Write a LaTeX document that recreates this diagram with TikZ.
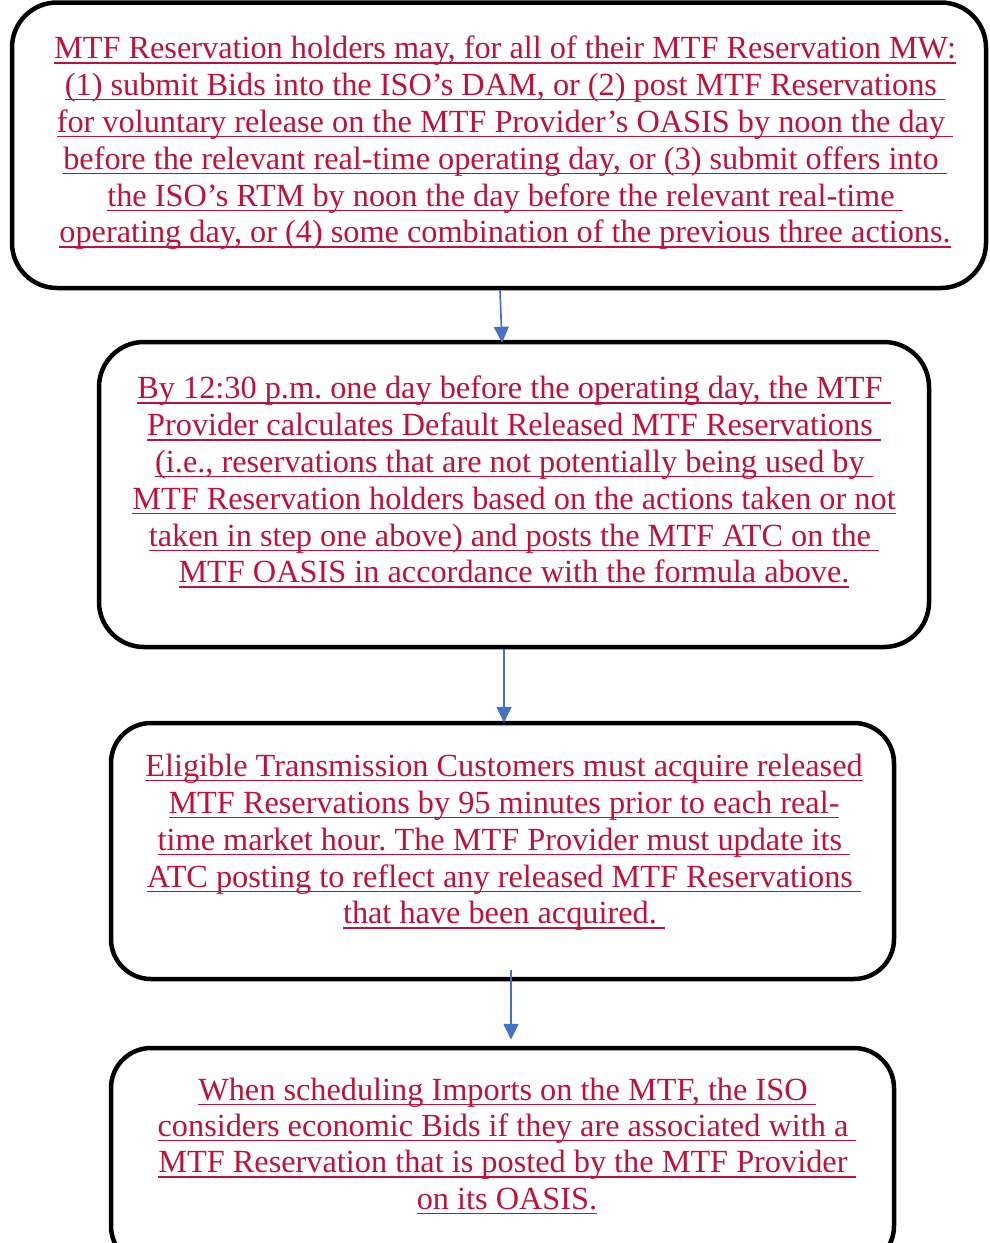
\documentclass[tikz,border=0pt]{standalone}
\usepackage{fontspec}
\setmainfont{Liberation Serif}
\usetikzlibrary{arrows.meta}
\definecolor{insred}{RGB}{190,18,58}
\definecolor{flowblue}{RGB}{68,114,196}
\frenchspacing
% underlined inserted text, one line at a time
\newcommand{\insl}[1]{\setbox0\hbox{#1}\rlap{\rule[-4.8pt]{\wd0}{1.3pt}}\box0}
\begin{document}
\begin{tikzpicture}[x=1pt,y=1pt,
  stepbox/.style={draw, line width=4.5pt, rounded corners=45pt},
  steptext/.style={text=insred, align=center, inner sep=0pt, font=\fontsize{32.3}{36.8}\selectfont},
  flow/.style={flowblue, line width=1.7pt, -{Triangle[width=15pt,length=16pt]}}]
\path[use as bounding box, clip] (0,0) rectangle (989,-1243);
% boxes
\node[stepbox, minimum width=974pt, minimum height=285.5pt] (step1) at (499,-145.25){};
\node[stepbox, minimum width=830pt, minimum height=305pt] (step2) at (514,-494.5){};
\node[stepbox, rounded corners=40pt, minimum width=783pt, minimum height=256pt] (step3) at (502.5,-851){};
\node[stepbox, rounded corners=40pt, minimum width=783pt, minimum height=218pt] (step4) at (502.5,-1157){};
% texts
\node[steptext] (step1txt) at (505,-143){\insl{MTF Reservation holders may, for all of their MTF Reservation MW:}\\
\insl{(1) submit Bids into the ISO’s DAM, or (2) post MTF Reservations~}\\
\insl{for voluntary release on the MTF Provider’s OASIS by noon the day~}\\
\insl{before the relevant real-time operating day, or (3) submit offers into~}\\
\insl{the ISO’s RTM by noon the day before the relevant real-time~}\\
\insl{operating day, or (4) some combination of the previous three actions.}};
\node[steptext] (step2txt) at (514,-482){\insl{By 12:30 p.m. one day before the operating day, the MTF~}\\
\insl{Provider calculates Default Released MTF Reservations~}\\
\insl{(i.e., reservations that are not potentially being used by~}\\
\insl{MTF Reservation holders based on the actions taken or not}\\
\insl{taken in step one above) and posts the MTF ATC on the~}\\
\insl{MTF OASIS in accordance with the formula above.}};
\node[steptext] (step3txt) at (504,-842.5){\insl{Eligible Transmission Customers must acquire released}\\
\insl{MTF Reservations by 95 minutes prior to each real-}\\
\insl{time market hour. The MTF Provider must update its~}\\
\insl{ATC posting to reflect any released MTF Reservations~}\\
\insl{that have been acquired.~}};
\node[steptext, font=\fontsize{32.3}{36.3}\selectfont] (step4txt) at (507,-1146){\insl{When scheduling Imports on the MTF, the ISO~}\\
\insl{considers economic Bids if they are associated with a~}\\
\insl{MTF Reservation that is posted by the MTF Provider~}\\
\insl{on its OASIS.}};
% arrows
\draw[flow] ([xshift=1pt]step1.south) -- ([xshift=-12pt,yshift=-3pt]step2.north);
\draw[flow] ([xshift=-10pt]step2.south) -- ([xshift=1.5pt,yshift=-2pt]step3.north);
\draw[flow] ([xshift=8.5pt,yshift=11pt]step3.south) -- ([xshift=8.5pt,yshift=6pt]step4.north);
\end{tikzpicture}
\end{document}
